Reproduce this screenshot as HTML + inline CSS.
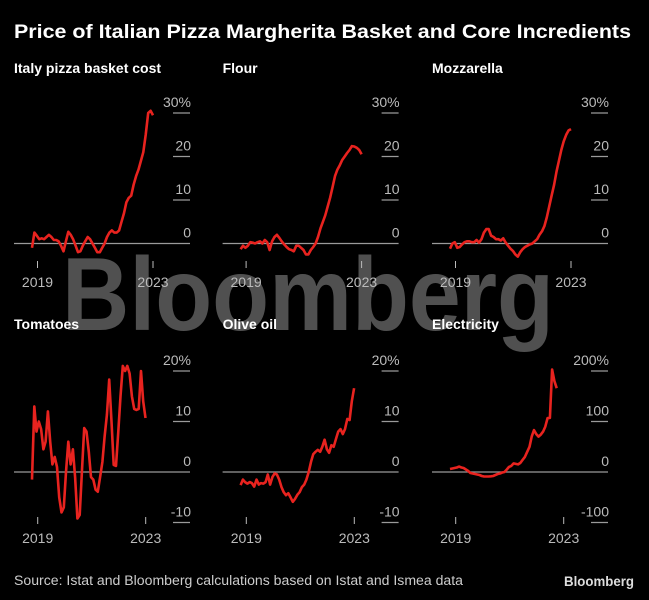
<!DOCTYPE html>
<html><head><meta charset="utf-8"><style>
html,body{margin:0;padding:0;background:#000;}
svg{display:block;font-family:"Liberation Sans","DejaVu Sans",sans-serif;}
</style></head><body>
<svg id="chart" width="649" height="600" viewBox="0 0 649 600">
<rect width="649" height="600" fill="#000"/>
<text x="62" y="330" font-size="104" font-weight="bold" fill="#505050" textLength="492" lengthAdjust="spacingAndGlyphs">Bloomberg</text>
<text x="14" y="38" font-size="19" font-weight="bold" fill="#fff" textLength="617" lengthAdjust="spacingAndGlyphs">Price of Italian Pizza Margherita Basket and Core Incredients</text>
<g id="panels"></g>
<text x="14" y="585" font-size="13.5" fill="#ccc" textLength="449" lengthAdjust="spacingAndGlyphs">Source: Istat and Bloomberg calculations based on Istat and Ismea data</text>
<text x="634" y="586" font-size="14" font-weight="bold" fill="#ddd" text-anchor="end" textLength="70" lengthAdjust="spacingAndGlyphs">Bloomberg</text>
</svg>
<script>
const basket = [-1,2.5,1.8,1,1.2,1,1.5,2,1.5,0.8,0.8,0.5,-0.5,-1.8,0.5,2.7,2,1,-0.5,-2,-1.8,-0.5,0.5,1.5,1,0,-1,-2,-2,-1,0,1.5,2.5,3,2.5,2.5,3,5,7,9.5,10.5,11,13.5,15.5,17,19,21,25,30,30.5,29.5];
const flour = [-1.3,-0.5,-1,-0.5,0.3,0.2,0,0.3,0.5,0,0.8,0.3,-1.5,0.5,1.5,2,1.3,0.5,-0.2,-0.8,-1.3,-1.5,-1.8,-0.5,-0.5,-1,-1.5,-2.5,-2.5,-1.5,-0.8,0,1.5,3.5,5,6.5,8.5,10.5,13,15.5,17,18,19.2,20,20.8,21.5,22.4,22.3,22,21.5,20.5];
const mozzarella = [-1.2,0,0.3,-1,-0.8,-0.2,0.3,0.5,0.5,0.3,0.3,0.8,0.2,1,2.5,3.3,3.3,1.8,1.5,1,1,0.7,1.2,0.2,-0.5,-1.2,-1.7,-2.5,-3,-2,-1.3,-0.8,-0.5,-0.2,0,0.5,1,2,2.8,4,6,8.5,11,13.5,16.5,19,21.5,23.5,25,26,26.3];
const tomatoes = [-1.5,13,8,10,8.5,4.5,6,12,6,1.5,3,1,-5,-8,-7,0,6,1.5,4.5,-1,-9.2,-8.5,0,8.7,8,4,-1,-1.5,-3.5,-3.9,-1,2,7,11.3,18.3,10,1.4,1.2,8,15,21,20,21,19.5,15,12.5,12.3,12.5,20,14,10.7];
const oliveOil = [-2.6,-1.5,-2,-2.3,-2,-2.2,-2.9,-1.5,-2.5,-2.2,-2.3,-2,-0.5,-2.5,-1,-0.3,-0.5,-1.5,-3,-4,-4.6,-4.2,-5,-5.9,-5.3,-4.5,-4,-3,-2.5,-1.5,0,2,3.5,4,4.4,4,5,6.4,4.5,3.8,5.3,5,6.5,8,8.5,7.5,8.5,10.5,10.3,14,16.6];
const electricity = [6,7,8,9,10.6,9,8,5,2,-2,-3,-4,-5,-6,-8,-9,-9,-9,-8.5,-8,-6,-4,-3,-1,0,5,10,12,17,16,15,18,24,30,40,50,70,83,75,70,74,80,90,107,107,203,180,166];
const panelTitles = ["Italy pizza basket cost","Flour","Mozzarella","Tomatoes","Olive oil","Electricity"];
const topTicks = [0,10,20,30];
const bottomTicks = [-10,0,10,20];
const elecTicks = [-100,0,100,200];
const yearLabels = ["2019","2023"];

const svg = document.getElementById('panels');
const NS = 'http://www.w3.org/2000/svg';
function mk(tag, attrs){const e=document.createElementNS(NS,tag);for(const k in attrs)e.setAttribute(k,attrs[k]);svg.appendChild(e);return e;}

const series=[basket,flour,mozzarella,tomatoes,oliveOil,electricity];
const tickSets=[topTicks,topTicks,topTicks,bottomTicks,bottomTicks,elecTicks];
const slugs=['basket','flour','mozzarella','tomatoes','olive-oil','electricity'];
series.forEach((data,p)=>{
  const col=p%3,row=Math.floor(p/3);
  const ox=[0,208.6,418][col];
  const top=row===0;
  const zeroY=top?243.5:472;
  const pxPerUnit=top?4.35:(p===5?0.505:5.05);
  const xStep=top?2.42:2.27;
  const yr2019=ox+(top?37.5:37.7), yr2023=ox+(top?153:145.7);
  const xf=i=>ox+32+xStep*i;
  const yf=v=>zeroY-v*pxPerUnit;
  const titleY=top?73:329;
  const t=mk('text',{x:ox+14,y:titleY,'font-size':14,'font-weight':'bold',fill:'#fff'});
  
  
  t.textContent=panelTitles[p];
  const zl=mk('line',{x1:ox+14,x2:ox+190,y1:zeroY,y2:zeroY,stroke:'#9a9a9a','stroke-width':1.3});
  
  
  tickSets[p].forEach((v,k)=>{
    const y=yf(v);
    if(v!==0){
      const tl=mk('line',{x1:ox+173,x2:ox+190,y1:y,y2:y,stroke:'#9a9a9a','stroke-width':1.3});
      
      
    }
    const lab=mk('text',{x:ox+191,y:y-6,'font-size':14,fill:'#bbb','text-anchor':'end'});
    
    
    lab.textContent=(k===tickSets[p].length-1)?v+'%':String(v);
  });
  [yr2019,yr2023].forEach((x,k)=>{
    const ty=top?261:517;
    const vt=mk('line',{x1:x,x2:x,y1:ty,y2:ty+7,stroke:'#bbb','stroke-width':1});
    
    
    const xl=mk('text',{x:x,y:ty+26,'font-size':14,fill:'#bbb','text-anchor':'middle'});
    
    
    xl.textContent=yearLabels[k];
  });
  const d=data.map((v,i)=>(i?'L':'M')+xf(i).toFixed(1)+' '+yf(v).toFixed(1)).join(' ');
  const path=mk('path',{d:d,fill:'none',stroke:'#e8231f','stroke-width':2.6,'stroke-linejoin':'round'});
  
  
});
</script>
</body></html>
